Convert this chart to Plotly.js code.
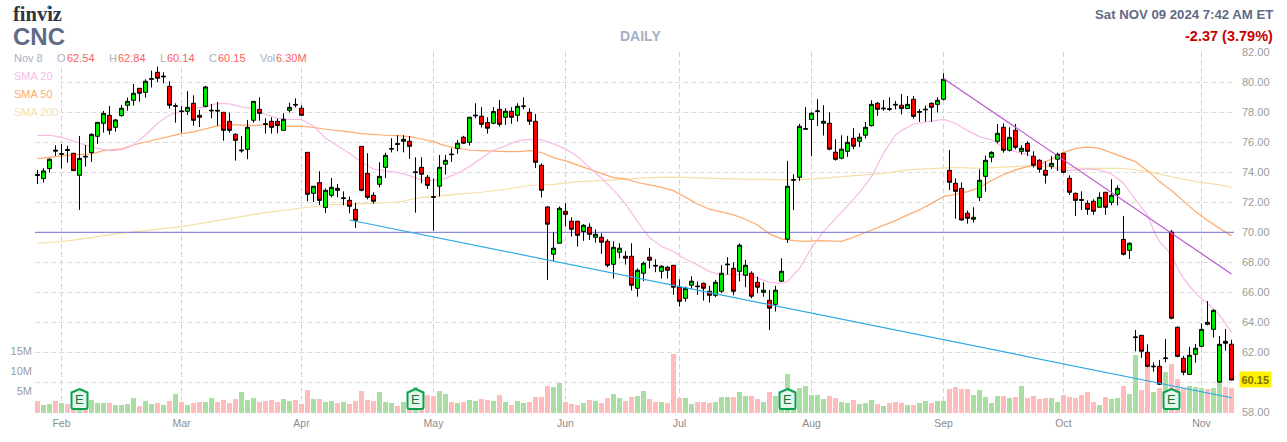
<!DOCTYPE html>
<html><head><meta charset="utf-8">
<script src="https://cdn.plot.ly/plotly-3.0.1.min.js"></script>
<style>html,body{margin:0;padding:0;background:#fff}#c{width:1287px;height:442px}</style>
</head><body><div id="c"></div>
<script>
const open=[73.85,73.58,74.25,75.48,75.20,75.52,75.27,73.80,75.07,75.31,
76.40,77.27,77.80,77.00,77.78,78.47,78.80,79.60,79.33,80.20,
80.67,80.36,79.73,78.40,78.09,78.07,78.60,77.80,78.40,78.09,
78.13,78.00,77.40,76.53,75.43,75.53,77.47,78.20,77.24,77.40,
77.40,76.80,78.13,78.53,78.27,75.33,72.60,73.31,71.65,72.47,
72.93,72.25,72.13,71.53,75.73,73.93,72.47,73.20,74.33,75.54,
75.91,76.07,76.07,73.98,74.33,73.67,72.38,73.07,74.54,75.22,
75.58,76.34,76.00,77.76,77.74,77.32,77.27,78.20,77.67,78.07,
77.80,78.38,78.00,77.40,74.47,71.69,68.54,69.27,71.40,70.74,
70.74,70.05,70.34,69.67,69.67,69.40,67.87,68.67,68.40,68.40,
66.27,67.27,68.34,67.80,67.40,67.67,67.80,66.34,65.60,66.47,
66.42,66.60,66.07,65.80,66.07,67.83,67.60,67.40,67.14,67.27,
66.67,66.00,65.47,65.20,66.74,69.54,73.47,73.67,76.87,77.52,
78.05,77.27,77.27,75.34,74.94,75.40,76.27,76.07,76.47,77.11,
78.60,78.23,78.24,78.53,78.47,78.25,78.87,78.00,78.16,78.60,
78.53,78.87,74.13,73.27,72.93,71.27,70.87,72.33,73.73,75.00,
76.07,77.00,75.47,76.80,75.40,75.93,75.07,74.80,74.13,74.40,
74.87,75.27,73.60,72.60,72.18,71.93,72.07,71.67,72.67,72.00,
72.53,69.53,68.80,62.98,63.13,62.00,61.03,61.07,61.58,70.02,
63.67,61.60,60.53,61.87,62.40,64.00,63.53,60.02,62.73,62.54];
const high=[74.16,74.27,74.93,75.80,75.89,75.76,75.27,76.42,75.82,76.60,
77.33,78.09,78.42,77.56,78.49,78.98,79.89,79.60,80.20,80.78,
81.05,80.67,80.07,78.60,78.42,79.40,79.13,78.16,79.76,78.56,
78.69,78.00,77.98,76.60,76.42,77.49,78.73,79.00,77.60,77.67,
77.58,77.93,78.65,78.93,78.47,75.33,73.07,74.07,72.93,73.62,
73.22,72.73,72.38,71.96,75.73,75.27,72.67,74.67,75.31,76.27,
76.47,76.47,76.42,75.00,75.00,73.82,73.60,75.16,75.16,75.60,
76.16,76.43,77.67,78.60,78.34,77.67,78.34,78.83,78.27,78.34,
78.60,79.00,78.27,77.89,74.60,71.74,70.00,71.72,71.94,71.00,
70.74,70.54,70.60,70.20,69.94,69.54,69.40,69.27,68.74,69.27,
67.60,68.05,68.94,68.20,67.80,67.76,67.80,66.87,66.38,67.07,
66.72,66.65,66.43,66.83,67.80,68.34,68.00,69.27,68.16,67.40,
67.05,66.67,66.16,66.43,68.27,74.76,73.87,77.23,78.34,78.00,
78.87,78.47,78.00,76.20,76.47,76.43,76.94,76.60,77.36,78.80,
78.69,78.82,79.00,78.76,79.22,79.09,79.09,78.22,78.45,78.67,
79.00,80.60,75.49,73.60,73.33,71.45,71.67,74.20,75.11,75.40,
77.22,77.27,77.00,77.22,75.80,76.07,75.40,74.87,74.73,75.07,
75.31,75.27,73.80,72.65,72.73,72.13,72.20,72.67,72.67,73.53,
73.13,71.09,69.33,63.49,63.13,62.53,61.33,61.49,62.89,70.16,
63.73,61.76,62.36,62.56,63.93,65.42,64.87,63.09,63.56,62.84];
const low=[73.22,73.31,73.98,75.09,74.25,74.65,74.11,71.49,74.38,74.69,
75.89,76.65,76.51,76.71,77.71,78.11,78.45,78.71,78.98,79.65,
80.02,79.93,78.25,77.31,76.65,77.82,77.11,77.02,78.33,77.60,
77.11,76.11,76.65,74.78,75.31,74.87,77.31,77.44,76.58,76.58,
76.60,76.80,77.98,78.33,77.76,72.07,72.02,71.82,71.29,72.33,
72.33,71.80,71.27,70.29,72.73,72.20,71.91,73.00,73.62,75.33,
75.40,75.33,74.89,71.31,73.27,72.89,70.11,72.38,73.85,74.69,
75.23,75.89,75.78,77.60,76.98,76.58,77.20,77.05,77.16,77.23,
77.38,78.20,77.16,74.29,72.32,66.83,68.07,69.27,70.38,69.72,
69.05,69.43,69.49,69.32,68.56,67.67,66.92,68.27,67.85,66.12,
65.71,66.74,67.60,67.34,66.92,66.92,65.83,65.05,65.38,66.23,
65.83,65.45,65.32,65.67,65.94,67.18,65.80,66.72,66.34,65.60,
65.94,65.71,63.49,64.72,66.69,69.29,71.49,73.43,76.83,75.09,
77.09,76.45,75.47,74.78,74.87,75.03,75.54,75.69,76.25,77.05,
77.76,78.11,78.09,78.20,77.85,78.25,77.58,77.36,77.38,77.36,
77.98,78.80,72.82,70.91,70.78,70.58,70.65,72.09,72.71,74.67,
75.93,75.31,75.38,75.53,75.18,75.09,74.33,73.98,73.25,74.22,
74.09,73.93,72.49,71.09,71.49,71.16,71.16,71.67,71.16,71.80,
71.80,68.45,68.22,62.07,61.62,61.00,60.71,59.82,61.33,64.20,
61.67,60.47,60.53,61.31,62.33,63.80,62.98,59.98,62.11,60.14];
const close=[73.80,74.09,74.87,75.42,75.24,75.46,74.11,74.93,75.03,76.53,
77.33,77.93,76.80,77.49,78.27,78.73,79.27,79.27,80.07,80.24,
80.27,80.40,78.47,78.44,78.05,78.33,77.47,77.67,79.69,78.13,
78.09,76.80,76.80,76.13,75.47,77.00,78.73,77.93,77.20,77.00,
77.13,77.53,78.33,78.49,77.80,72.53,73.07,72.13,72.80,73.00,
72.80,72.29,71.73,70.80,72.80,72.33,72.07,73.73,75.13,75.58,
75.87,76.20,75.73,74.02,73.87,73.13,72.34,74.33,74.80,75.18,
75.94,75.94,77.67,77.80,77.20,76.94,78.05,77.20,78.07,77.67,
78.40,78.42,77.40,74.67,72.80,70.54,68.94,71.60,71.20,70.20,
69.80,70.47,69.87,69.87,69.34,67.80,69.00,68.94,68.27,66.47,
67.47,67.94,68.14,67.76,67.74,67.47,66.34,65.40,66.27,66.74,
66.38,66.27,65.80,66.67,67.27,67.87,66.07,69.14,67.80,65.74,
66.34,66.14,64.94,66.14,67.40,73.07,73.51,77.07,76.91,77.94,
78.09,77.40,75.54,74.87,75.54,76.00,75.74,76.34,77.00,78.53,
78.20,78.27,78.20,78.49,78.25,78.53,77.73,78.04,78.20,78.33,
78.80,80.20,73.33,72.73,70.82,70.93,71.00,73.47,74.80,75.33,
76.60,75.47,76.33,75.67,75.60,75.40,74.47,74.20,73.80,74.60,
75.20,74.00,72.67,72.13,72.14,71.53,71.40,72.33,71.67,72.47,
72.93,68.53,69.27,63.02,62.07,61.07,61.07,59.87,61.62,64.27,
61.73,60.67,61.80,62.27,63.53,63.87,64.80,62.53,62.60,60.15];
const volumeM=[3,2,2.25,3,2.5,2.25,2.8,5,1,3.25,
2.5,2.5,2.5,2,2,2.25,3.75,1.75,3,2.25,
2.5,2,3,4.75,2.75,2,2.5,2.75,2.75,3.75,
2.75,3.25,2.5,3.5,5.25,3.25,3.75,2.75,3,3.25,
2.75,3.5,3,3.25,2.25,5.75,3.5,3.5,2.75,3,
2.5,2.75,2.25,3,5.5,3.25,3,5.25,2.75,2.5,
1.75,2.75,2.5,6.5,2.5,4.5,4.25,5.5,4.75,2.75,
2.5,2.75,3.25,3,3.5,3.25,3,4.5,2.75,2,
3,2.5,2.75,4,4,6.75,6.5,7.5,2.75,2.25,
2,2.5,3.25,3,2.5,3.75,4.75,3.75,3,4,
4.25,5.5,3.5,2.75,2.75,2.5,14.75,3.75,3.75,2.25,
2.75,2.75,2.5,2.75,4,4,4,5.25,4.25,4.25,
3.5,2.75,5.25,4.25,3.5,9.75,4,6.25,6.75,4.5,
4.5,3.5,4.25,3.75,2.75,2.5,3.25,2.25,2.5,3.25,
2.25,1.75,2.5,2.75,2.5,2,2,2.5,3,2.5,
3,3,6,6.5,6,6,4.5,5.75,4,2.5,
4.25,4.25,3.75,4,6.75,3.75,4.25,3.5,3.75,3.75,
2.75,4.5,4,3.75,4.5,5.25,2.75,2,4,3.5,
3.75,6.75,4.75,14.5,5.75,12,5.25,6.25,10.25,12.25,
8.5,6.25,6.75,6.5,6.25,6,6.25,7.75,6.5,6.3];
const sma20X=[0,2,4,6,8,10,12,14,16,18,20,22,24,26,28,30,32,34,36,38,40,42,44,46,48,50,52,54,56,58,60,62,64,66,68,70,72,74,76,78,80,82,84,86,88,90,92,94,96,98,100,102,104,106,108,110,112,114,116,118,120,122,124,125,127,129,131,133,135,137,139,141,143,144,146,148,150,151,153,155,157,159,161,163,165,167,169,171,173,175,177,179,181,183,185,186,187,189,190,191,192,193,194,195,197,199];
const sma20=[76.47,76.47,76.33,76.05,75.82,75.60,75.45,75.49,75.82,76.49,77.27,77.82,78.05,78.25,78.36,78.60,78.56,78.36,78.22,77.87,77.60,77.53,77.53,77.09,76.27,75.78,75.27,74.67,74.22,74.09,74.00,73.78,73.49,73.45,73.60,73.94,74.38,74.94,75.49,75.76,76.09,76.20,76.16,75.89,75.56,75.05,74.34,73.60,72.83,71.89,70.72,69.65,69.05,68.72,68.20,67.83,67.38,67.16,67.20,67.16,66.94,66.67,66.60,66.72,67.60,68.94,70.05,70.94,71.83,72.65,73.71,75.27,76.49,76.78,77.22,77.33,77.47,77.53,77.27,76.78,76.38,76.16,75.67,75.38,75.20,74.71,74.38,74.09,74.16,74.22,74.16,73.89,73.27,72.16,71.16,70.16,69.38,68.49,67.60,66.93,66.42,65.93,65.58,65.27,64.49,63.31];
const sma50X=[0,2,4,6,9,11,14,16,18,20,22,24,26,28,30,32,34,36,38,40,42,44,46,48,50,52,54,56,58,60,62,64,66,68,70,72,74,76,78,80,82,84,86,88,90,92,94,96,98,100,102,104,106,108,110,112,114,116,118,120,122,124,126,128,130,132,134,136,137,139,141,143,145,147,149,151,153,155,157,159,161,163,165,167,169,171,173,175,177,179,181,183,185,187,189,191,193,195,197,199];
const sma50=[74.91,75.00,75.09,75.18,75.22,75.45,75.56,75.82,76.02,76.22,76.42,76.58,76.69,76.89,77.09,77.18,77.13,77.11,77.18,77.11,77.07,77.07,77.00,76.87,76.80,76.69,76.58,76.51,76.47,76.45,76.38,76.22,76.05,75.76,75.60,75.47,75.45,75.40,75.38,75.38,75.45,75.32,74.98,74.76,74.47,74.20,73.89,73.65,73.56,73.32,73.16,73.00,72.78,72.34,71.89,71.54,71.34,71.16,70.87,70.49,69.89,69.56,69.45,69.40,69.45,69.40,69.40,69.67,69.83,70.11,70.45,70.78,71.16,71.49,71.93,72.38,72.53,72.71,72.98,73.45,73.85,74.16,74.38,74.56,74.87,75.31,75.60,75.67,75.60,75.31,75.05,74.71,74.11,73.38,72.78,72.05,71.38,70.78,70.27,69.76];
const sma200X=[0,4,9,13,18,24,30,38,44,49,56,60,64,66,70,74,78,82,86,90,94,98,102,106,110,114,118,122,126,130,134,137,141,145,149,153,157,161,165,171,175,181,185,189,193,197,199];
const sma200=[69.27,69.38,69.65,69.89,70.11,70.38,70.78,71.31,71.62,71.84,71.93,72.02,72.33,72.38,72.54,72.67,72.87,73.12,73.20,73.38,73.45,73.54,73.65,73.67,73.60,73.58,73.54,73.49,73.49,73.58,73.71,73.76,73.93,74.16,74.27,74.33,74.27,74.33,74.42,74.33,74.27,74.27,74.04,73.71,73.38,73.16,73.00];
const supportX=[52,199], supportY=[70.82,58.97];
const resistX=[151,199], resistY=[80.26,67.22];
const levelY=[70,70];
const monthIdx=[4,24,44,66,88,107,129,151,171,194];
const monthLbl=['Feb','Mar','Apr','May','Jun','Jul','Aug','Sep','Oct','Nov'];
const priceTicks=[58,60,62,64,66,68,70,72,74,76,78,80,82];
const priceTickText=['58.00','','62.00','64.00','66.00','68.00','70.00','72.00','74.00','76.00','78.00','80.00','82.00'];
const volTicks=[5,10,15];
const volTickText=['5M','10M','15M'];
const earningsIdx=[7,63,125,189];

const idx=open.map((_,i)=>i);
const L=35,T=52,W=1199,H=361;
const xRange=[-0.4167,199.4167];
const pRange=[58-0.7/15,82+0.3/15];
const vRange=[0,H/4];
const px=v=>(v-L)/W, py=v=>1-(v-T)/H;
const up='#a9dda2', down='#ffbcbc';
const sans='"Liberation Sans",Arial,sans-serif';

const traces=[
 {type:'scatter',mode:'lines',x:sma200X,y:sma200,line:{color:'#f6e0a8',width:1.25},xaxis:'x',yaxis:'y'},
 {type:'scatter',mode:'lines',x:sma50X,y:sma50,line:{color:'#ffab6e',width:1.25},xaxis:'x',yaxis:'y'},
 {type:'scatter',mode:'lines',x:sma20X,y:sma20,line:{color:'#f6bce8',width:1.25},xaxis:'x',yaxis:'y'},
 {type:'scatter',mode:'lines',x:xRange,y:levelY,line:{color:'#7373d6',width:1},xaxis:'x',yaxis:'y'},
 {type:'bar',x:idx,y:volumeM,width:5/6,marker:{color:idx.map(i=>close[i]>=open[i]?up:down),line:{width:0}},xaxis:'x',yaxis:'y2'},
 {type:'candlestick',x:idx,open:open,high:high,low:low,close:close,xaxis:'x',yaxis:'y3',whiskerwidth:0,
  increasing:{line:{color:'#000',width:1},fillcolor:'#00e800'},decreasing:{line:{color:'#000',width:1},fillcolor:'#ff0000'}},
 {type:'scatter',mode:'lines',x:supportX,y:supportY,line:{color:'#2eaae6',width:1.2},xaxis:'x',yaxis:'y3'},
 {type:'scatter',mode:'lines',x:resistX,y:resistY,line:{color:'#bb55d0',width:1.2},xaxis:'x',yaxis:'y3'}
];

const txt=(text,xp,yp,color,size,opt={})=>Object.assign({text,x:px(xp),y:py(yp),xref:'paper',yref:'paper',showarrow:false,
  xanchor:'left',yanchor:'middle',borderpad:0,font:{family:sans,size,color}},opt);
const lab='#a9b0c2', val='#ff5c5c', head='#5f6b85';
const annotations=[
 txt('finviz',12,14,'#2f3540',20,{font:{family:'"Liberation Serif",serif',size:20.5,color:'#2f3540',weight:700}}),
 txt('<b>CNC</b>',11.5,37,head,24),
 txt('<b>DAILY</b>',640.5,36,'#a5afc6',14,{xanchor:'center'}),
 txt('<b>Sat NOV 09 2024 7:42 AM ET</b>',1274,14,head,13.2,{xanchor:'right'}),
 txt('<b>-2.37 (3.79%)</b>',1274,36,'#c80000',14.5,{xanchor:'right'}),
 txt('Nov 8',12.5,58,lab,11), txt('O',55.5,58,lab,11), txt('62.54',65.5,58,val,11),
 txt('H',107.5,58,lab,11), txt('62.84',116.5,58,val,11),
 txt('L',158.5,58,lab,11), txt('60.14',165.5,58,val,11),
 txt('C',207.5,58,lab,11), txt('60.15',216.5,58,val,11),
 txt('Vol',258.5,58,lab,11), txt('6.30M',274.5,58,val,11),
 txt('SMA 20',12.5,76,'#f6bce8',11), txt('SMA 50',12.5,94,'#ffab6e',11), txt('SMA 200',12.5,112,'#f6e0a8',11),
 txt('<b>60.15</b>',1255,379,'#7d6f00',11,{xanchor:'center',bgcolor:'#fff000',borderpad:1.5}),
 ...earningsIdx.map(i=>({text:'E',x:i,y:3.4,xref:'x',yref:'y2',showarrow:false,xanchor:'center',yanchor:'middle',borderpad:0,font:{family:sans,size:13,color:'#0b7a3f'}}))
];
const whiteRect=(x0,y0,x1,y1)=>({type:'rect',xref:'paper',yref:'paper',x0:px(x0),x1:px(x1),y0:py(y0),y1:py(y1),fillcolor:'#fff',line:{width:0},layer:'above'});
const badgePath='M 0,10 L 8,6.5 L 8,-8 Q 8,-10 6,-10 L -6,-10 Q -8,-10 -8,-8 L -8,6.5 Z';
const shapes=[
 whiteRect(0,50,306,65), whiteRect(0,65,60,120),
 ...earningsIdx.map(i=>({type:'path',xsizemode:'pixel',ysizemode:'pixel',xanchor:i,yanchor:3.5,xref:'x',yref:'y2',path:badgePath,fillcolor:'#e7f4ea',line:{color:'#09a04f',width:2},layer:'above'})),
 {type:'circle',xref:'paper',yref:'paper',x0:px(47.2),x1:px(51.2),y0:py(5.2),y1:py(9.2),fillcolor:'#4aa5ee',line:{width:0},layer:'above'}
];
const layout={
 width:1287,height:442,paper_bgcolor:'#fff',plot_bgcolor:'#fff',showlegend:false,hovermode:false,
 margin:{l:L,r:1287-L-W,t:T,b:442-T-H,pad:0},boxgap:1/3,boxgroupgap:0,dragmode:false,
 xaxis:{range:xRange,tickmode:'array',tickvals:monthIdx,ticktext:monthLbl,showgrid:true,gridcolor:'#d2d2d2',griddash:'5px,3px',gridwidth:1,
   zeroline:false,showline:false,ticks:'',ticklabelstandoff:2,tickfont:{family:sans,size:10.5,color:'#8c8c8c'},rangeslider:{visible:false},fixedrange:true},
 yaxis:{range:pRange,side:'right',tickmode:'array',tickvals:priceTicks,ticktext:priceTickText,showgrid:true,gridcolor:'#dedede',griddash:'5px,3px',gridwidth:1,
   zeroline:false,showline:false,ticks:'',ticklabelstandoff:7,ticklabelshift:-1.5,tickfont:{family:sans,size:11,color:'#9b9b9b'},fixedrange:true},
 yaxis2:{range:vRange,overlaying:'y',side:'left',tickmode:'array',tickvals:volTicks,ticktext:volTickText,showgrid:false,zeroline:false,showline:false,ticks:'',
   ticklabelstandoff:2,ticklabelshift:-2,tickfont:{family:sans,size:11,color:'#9b9b9b'},fixedrange:true},
 yaxis3:{range:pRange,overlaying:'y',visible:false,fixedrange:true},
 annotations,shapes
};
Plotly.newPlot('c',traces,layout,{staticPlot:true,displayModeBar:false});
</script></body></html>
